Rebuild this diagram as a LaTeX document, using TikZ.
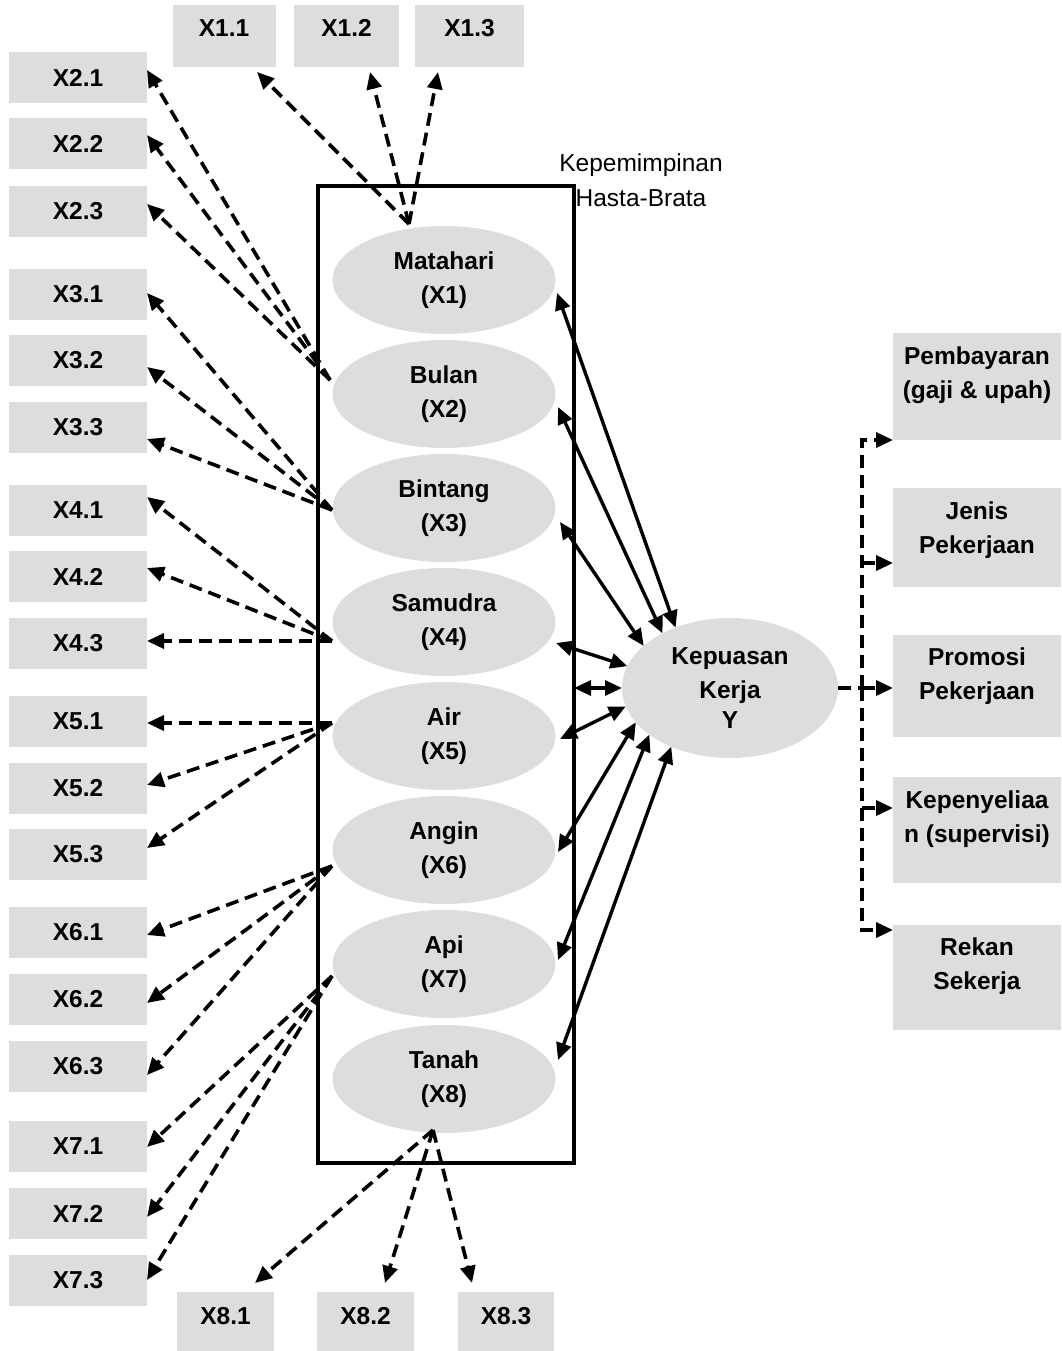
\documentclass[tikz,border=0pt]{standalone}
\usepackage{fontspec}
\setmainfont{Liberation Sans}
\usetikzlibrary{arrows.meta,shapes.geometric}
\definecolor{boxgray}{RGB}{221,221,221}
\begin{document}
\begin{tikzpicture}[x=1pt,y=-1pt,
  every node/.style={font=\fontsize{24.5}{34}\selectfont\bfseries, inner sep=0pt, outer sep=0pt},
  lbox/.style={fill=boxgray, minimum width=138pt, minimum height=51pt},
  tbox/.style={fill=boxgray, minimum height=62pt, text height=18pt, text depth=16pt},
  rbox/.style={fill=boxgray, minimum width=168pt},
  rtext/.style={align=center},
  ell/.style={ellipse, fill=boxgray, minimum width=223pt, minimum height=108pt, align=center},
  dl/.style={line width=3.6pt, dash pattern=on 13pt off 7pt},
  dar/.style={dl, -{Triangle[length=17pt,width=15pt]}},
  sar/.style={line width=3.4pt, {Triangle[length=17pt,width=15pt]}-{Triangle[length=17pt,width=15pt]}},
]
\useasboundingbox (0,0) rectangle (1061,1351);
\clip (0,0) rectangle (1061,1351);

% frame
\node[draw, line width=3.4pt, minimum width=256pt, minimum height=977pt] (frame) at (446,674.5) {};
\node[font=\fontsize{24.5}{35}\selectfont, align=center] (frlabel) at (641,180) {Kepemimpinan\\Hasta-Brata};

% ellipses
\node[ell] (E1) at (444,280) {Matahari\\(X1)};
\node[ell] (E2) at (444,394) {Bulan\\(X2)};
\node[ell] (E3) at (444,508) {Bintang\\(X3)};
\node[ell] (E4) at (444,622) {Samudra\\(X4)};
\node[ell] (E5) at (444,736) {Air\\(X5)};
\node[ell] (E6) at (444,850) {Angin\\(X6)};
\node[ell] (E7) at (444,964) {Api\\(X7)};
\node[ell] (E8) at (444,1079) {Tanah\\(X8)};
\node[ellipse, fill=boxgray, minimum width=216pt, minimum height=140pt, align=center] (K) at (730,688) {Kepuasan\\Kerja\\[-4pt]Y};

% top boxes
\node[tbox, minimum width=103pt] (x11) at (224,36) {X1.1};
\node[tbox, minimum width=105pt] (x12) at (346.5,36) {X1.2};
\node[tbox, minimum width=109pt] (x13) at (469.5,36) {X1.3};

% bottom boxes
\node[tbox, minimum width=97pt] (x81) at (225.5,1323) {X8.1};
\node[tbox, minimum width=97pt] (x82) at (365.5,1323) {X8.2};
\node[tbox, minimum width=96pt] (x83) at (506,1323) {X8.3};

% left boxes
\node[lbox] (x21) at (78,78) {X2.1};
\node[lbox] (x22) at (78,144) {X2.2};
\node[lbox] (x23) at (78,211.5) {X2.3};
\node[lbox] (x31) at (78,294.5) {X3.1};
\node[lbox] (x32) at (78,360.5) {X3.2};
\node[lbox] (x33) at (78,427.5) {X3.3};
\node[lbox] (x41) at (78,510.5) {X4.1};
\node[lbox] (x42) at (78,576.5) {X4.2};
\node[lbox] (x43) at (78,643.5) {X4.3};
\node[lbox] (x51) at (78,721.5) {X5.1};
\node[lbox] (x52) at (78,788) {X5.2};
\node[lbox] (x53) at (78,854.5) {X5.3};
\node[lbox] (x61) at (78,932.5) {X6.1};
\node[lbox] (x62) at (78,999.5) {X6.2};
\node[lbox] (x63) at (78,1066.5) {X6.3};
\node[lbox] (x71) at (78,1146.5) {X7.1};
\node[lbox] (x72) at (78,1213.5) {X7.2};
\node[lbox] (x73) at (78,1280.5) {X7.3};

% right boxes
\node[rbox, minimum height=107pt] (pb) at (977,386.5) {};
\node[rtext] (pbt) at (977,375) {Pembayaran\\(gaji \& upah)};
\node[rbox, minimum height=99pt] (jn) at (977,537.5) {};
\node[rtext] (jnt) at (977,530.5) {Jenis\\Pekerjaan};
\node[rbox, minimum height=102pt] (pr) at (977,686) {};
\node[rtext] (prt) at (977,676.5) {Promosi\\Pekerjaan};
\node[rbox, minimum height=106pt] (kp) at (977,830) {};
\node[rtext] (kpt) at (977,819) {Kepenyeliaa\\n (supervisi)};
\node[rbox, minimum height=105pt] (rk) at (977,977.5) {};
\node[rtext] (rkt) at (977,966.5) {Rekan\\Sekerja};

% sources of indicator arrows
\coordinate (s1) at (409,224);
\coordinate (s2) at (330,380);
\coordinate (s3) at (332,510);
\coordinate (s4) at (332,641);
\coordinate (s5) at (332,723);
\coordinate (s6) at (332,866);
\coordinate (s7) at (332,976);
\coordinate (s8) at (433,1130);

% X1
\draw[dar] (s1) -- ([xshift=33pt,yshift=-5pt]x11.south);
\draw[dar] (s1) -- ([xshift=23.5pt,yshift=-5pt]x12.south);
\draw[dar] (s1) -- ([xshift=-31.5pt,yshift=-5pt]x13.south);
% X2
\draw[dar] (s2) -- ([yshift=8pt]x21.east);
\draw[dar] (s2) -- ([yshift=9pt]x22.east);
\draw[dar] (s2) -- ([yshift=7.5pt]x23.east);
% X3
\draw[dar] (s3) -- ([yshift=1.5pt]x31.east);
\draw[dar] (s3) -- ([yshift=-6.5pt]x32.east);
\draw[dar] (s3) -- ([yshift=-11.5pt]x33.east);
% X4
\draw[dar] (s4) -- ([yshift=13.5pt]x41.east);
\draw[dar] (s4) -- ([yshift=8.5pt]x42.east);
\draw[dar] (s4) -- ([yshift=2.5pt]x43.east);
% X5
\draw[dar] (s5) -- ([yshift=-1.5pt]x51.east);
\draw[dar] (s5) -- ([yshift=3pt]x52.east);
\draw[dar] (s5) -- ([yshift=6.5pt]x53.east);
% X6
\draw[dar] (s6) -- ([yshift=-2.5pt]x61.east);
\draw[dar] (s6) -- ([yshift=-3.5pt]x62.east);
\draw[dar] (s6) -- ([yshift=-8.5pt]x63.east);
% X7
\draw[dar] (s7) -- ([yshift=-0.5pt]x71.east);
\draw[dar] (s7) -- ([yshift=-3.5pt]x72.east);
\draw[dar] (s7) -- ([yshift=0.5pt]x73.east);
% X8
\draw[dar] (s8) -- ([xshift=29.5pt,yshift=9pt]x81.north);
\draw[dar] (s8) -- ([xshift=19.5pt,yshift=9pt]x82.north);
\draw[dar] (s8) -- ([xshift=-34pt,yshift=9pt]x83.north);

% correlations with Y
\draw[sar] ([xshift=1.5pt,yshift=-13pt]E1.east) -- (K.132);
\draw[sar] ([xshift=2.5pt,yshift=-13pt]E2.east) -- (K.141);
\draw[sar] ([xshift=4.5pt,yshift=-14pt]E3.east) -- (K.154);
\draw[sar] ([xshift=0.5pt,yshift=-21pt]E4.east) -- (K.168);
\draw[sar] (frame.east |- K.west) -- (K.west);
\draw[sar] ([xshift=4.5pt,yshift=-3pt]E5.east) -- (K.190);
\draw[sar] ([xshift=2.5pt,yshift=-2pt]E6.east) -- (K.200);
\draw[sar] ([xshift=2.5pt,yshift=4pt]E7.east) -- (K.210);
\draw[sar] ([xshift=2.5pt,yshift=19pt]E8.east) -- (K.225);

% Y indicators
\coordinate (hub) at (862,688);
\draw[dl] (K.east) -- (hub);
\draw[dar] (hub) |- (pb.south west);
\draw[dar] (hub) |- ([yshift=-5pt]rk.north west);
\draw[dar] ([xshift=-31pt,yshift=-25.5pt]jn.west) -- ([yshift=-25.5pt]jn.west);
\draw[dar] (hub) -- (pr.west |- hub);
\draw[dar] ([xshift=-31pt,yshift=22pt]kp.west) -- ([yshift=22pt]kp.west);
\end{tikzpicture}
\end{document}
